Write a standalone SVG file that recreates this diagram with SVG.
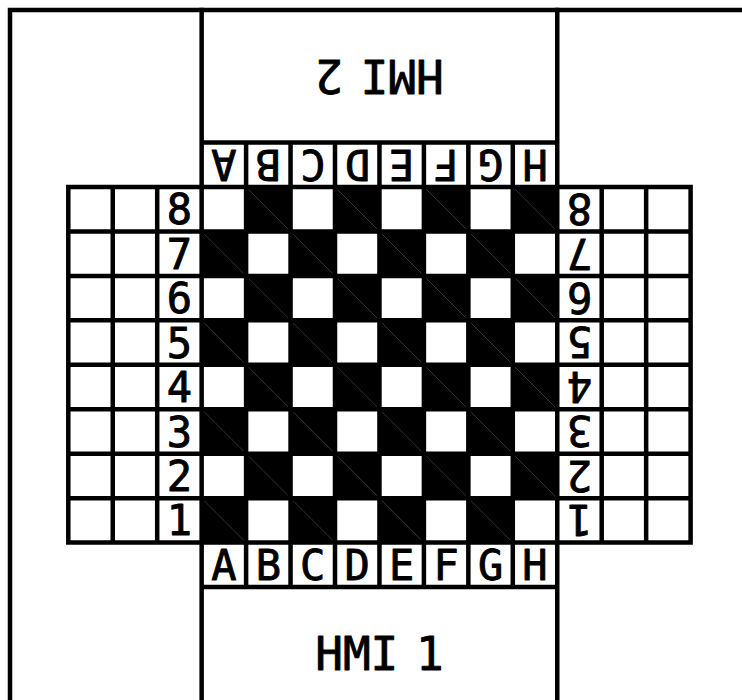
<svg xmlns="http://www.w3.org/2000/svg" xmlns:xlink="http://www.w3.org/1999/xlink" width="742" height="700" viewBox="0 0 742 700">
  <style>
    .ln { fill: none; stroke: #000; stroke-width: 4.5; stroke-linecap: square; }
    .lbl { font-family: "DejaVu Sans Mono", "Liberation Mono", monospace; font-size: 42px; fill: #000; stroke: #000; stroke-width: 0.9; stroke-linejoin: round; text-anchor: middle; }
    .hmi { font-family: "DejaVu Sans Mono", "Liberation Mono", monospace; font-size: 46px; fill: #000; stroke: #000; stroke-width: 0.9; stroke-linejoin: round; text-anchor: middle; word-spacing: -10px; }
  </style>
  <defs>
    <g id="dk">
      <rect x="0" y="0" width="44.45" height="44.45" fill="#000"/>
      <line x1="0" y1="0" x2="44.45" y2="44.45" stroke="#4a4a4a" stroke-width="0.7"/>
    </g>
  </defs>
  <rect x="0" y="0" width="742" height="700" fill="#fff"/>

  <g id="board-dark">
    <use xlink:href="#dk" x="246.1" y="187"/><use xlink:href="#dk" x="335" y="187"/><use xlink:href="#dk" x="423.9" y="187"/><use xlink:href="#dk" x="512.8" y="187"/>
    <use xlink:href="#dk" x="201.65" y="231.45"/><use xlink:href="#dk" x="290.55" y="231.45"/><use xlink:href="#dk" x="379.45" y="231.45"/><use xlink:href="#dk" x="468.35" y="231.45"/>
    <use xlink:href="#dk" x="246.1" y="275.9"/><use xlink:href="#dk" x="335" y="275.9"/><use xlink:href="#dk" x="423.9" y="275.9"/><use xlink:href="#dk" x="512.8" y="275.9"/>
    <use xlink:href="#dk" x="201.65" y="320.35"/><use xlink:href="#dk" x="290.55" y="320.35"/><use xlink:href="#dk" x="379.45" y="320.35"/><use xlink:href="#dk" x="468.35" y="320.35"/>
    <use xlink:href="#dk" x="246.1" y="364.8"/><use xlink:href="#dk" x="335" y="364.8"/><use xlink:href="#dk" x="423.9" y="364.8"/><use xlink:href="#dk" x="512.8" y="364.8"/>
    <use xlink:href="#dk" x="201.65" y="409.25"/><use xlink:href="#dk" x="290.55" y="409.25"/><use xlink:href="#dk" x="379.45" y="409.25"/><use xlink:href="#dk" x="468.35" y="409.25"/>
    <use xlink:href="#dk" x="246.1" y="453.7"/><use xlink:href="#dk" x="335" y="453.7"/><use xlink:href="#dk" x="423.9" y="453.7"/><use xlink:href="#dk" x="512.8" y="453.7"/>
    <use xlink:href="#dk" x="201.65" y="498.15"/><use xlink:href="#dk" x="290.55" y="498.15"/><use xlink:href="#dk" x="379.45" y="498.15"/><use xlink:href="#dk" x="468.35" y="498.15"/>
  </g>

  <g id="frame">
    <rect class="ln" x="10" y="10" width="739.5" height="709.5"/>
  </g>

  <g id="grid">
    <path class="ln" d="
      M68.3,187 H690.6 M68.3,231.45 H690.6 M68.3,275.9 H690.6 M68.3,320.35 H690.6
      M68.3,364.8 H690.6 M68.3,409.25 H690.6 M68.3,453.7 H690.6 M68.3,498.15 H690.6 M68.3,542.6 H690.6
      M201.65,142.55 H557.25 M201.65,587.05 H557.25
      M68.3,187 V542.6 M112.75,187 V542.6 M157.2,187 V542.6
      M601.7,187 V542.6 M646.15,187 V542.6 M690.6,187 V542.6
      M201.65,10 V719.5 M557.25,10 V719.5
      M246.1,142.55 V587.05 M290.55,142.55 V587.05 M335,142.55 V587.05 M379.45,142.55 V587.05
      M423.9,142.55 V587.05 M468.35,142.55 V587.05 M512.8,142.55 V587.05"/>
  </g>

  <g id="hmi2">
    <text class="hmi" x="379.45" y="93" transform="rotate(180 379.45 76.3)">HMI 2</text>
  </g>
  <g id="hmi1">
    <text class="hmi" x="379.45" y="670">HMI 1</text>
  </g>

  <g id="ranks-left">
    <text class="lbl" x="179.43" y="224.3">8</text>
    <text class="lbl" x="179.43" y="268.75">7</text>
    <text class="lbl" x="179.43" y="313.2">6</text>
    <text class="lbl" x="179.43" y="357.65">5</text>
    <text class="lbl" x="179.43" y="402.1">4</text>
    <text class="lbl" x="179.43" y="446.55">3</text>
    <text class="lbl" x="179.43" y="491">2</text>
    <text class="lbl" x="179.43" y="535.45">1</text>
  </g>

  <g id="ranks-right">
    <text class="lbl" x="579.48" y="224.3" transform="rotate(180 579.48 209.22)">8</text>
    <text class="lbl" x="579.48" y="268.75" transform="rotate(180 579.48 253.67)">7</text>
    <text class="lbl" x="579.48" y="313.2" transform="rotate(180 579.48 298.12)">6</text>
    <text class="lbl" x="579.48" y="357.65" transform="rotate(180 579.48 342.57)">5</text>
    <text class="lbl" x="579.48" y="402.1" transform="rotate(180 579.48 387.02)">4</text>
    <text class="lbl" x="579.48" y="446.55" transform="rotate(180 579.48 431.47)">3</text>
    <text class="lbl" x="579.48" y="491" transform="rotate(180 579.48 475.92)">2</text>
    <text class="lbl" x="579.48" y="535.45" transform="rotate(180 579.48 520.37)">1</text>
  </g>

  <g id="files-bottom">
    <text class="lbl" x="223.87" y="579.9">A</text>
    <text class="lbl" x="268.32" y="579.9">B</text>
    <text class="lbl" x="312.77" y="579.9">C</text>
    <text class="lbl" x="357.22" y="579.9">D</text>
    <text class="lbl" x="401.67" y="579.9">E</text>
    <text class="lbl" x="446.12" y="579.9">F</text>
    <text class="lbl" x="490.57" y="579.9">G</text>
    <text class="lbl" x="535.02" y="579.9">H</text>
  </g>

  <g id="files-top">
    <text class="lbl" x="223.87" y="179.87" transform="rotate(180 223.87 164.77)">A</text>
    <text class="lbl" x="268.32" y="179.87" transform="rotate(180 268.32 164.77)">B</text>
    <text class="lbl" x="312.77" y="179.87" transform="rotate(180 312.77 164.77)">C</text>
    <text class="lbl" x="357.22" y="179.87" transform="rotate(180 357.22 164.77)">D</text>
    <text class="lbl" x="401.67" y="179.87" transform="rotate(180 401.67 164.77)">E</text>
    <text class="lbl" x="446.12" y="179.87" transform="rotate(180 446.12 164.77)">F</text>
    <text class="lbl" x="490.57" y="179.87" transform="rotate(180 490.57 164.77)">G</text>
    <text class="lbl" x="535.02" y="179.87" transform="rotate(180 535.02 164.77)">H</text>
  </g>
</svg>
